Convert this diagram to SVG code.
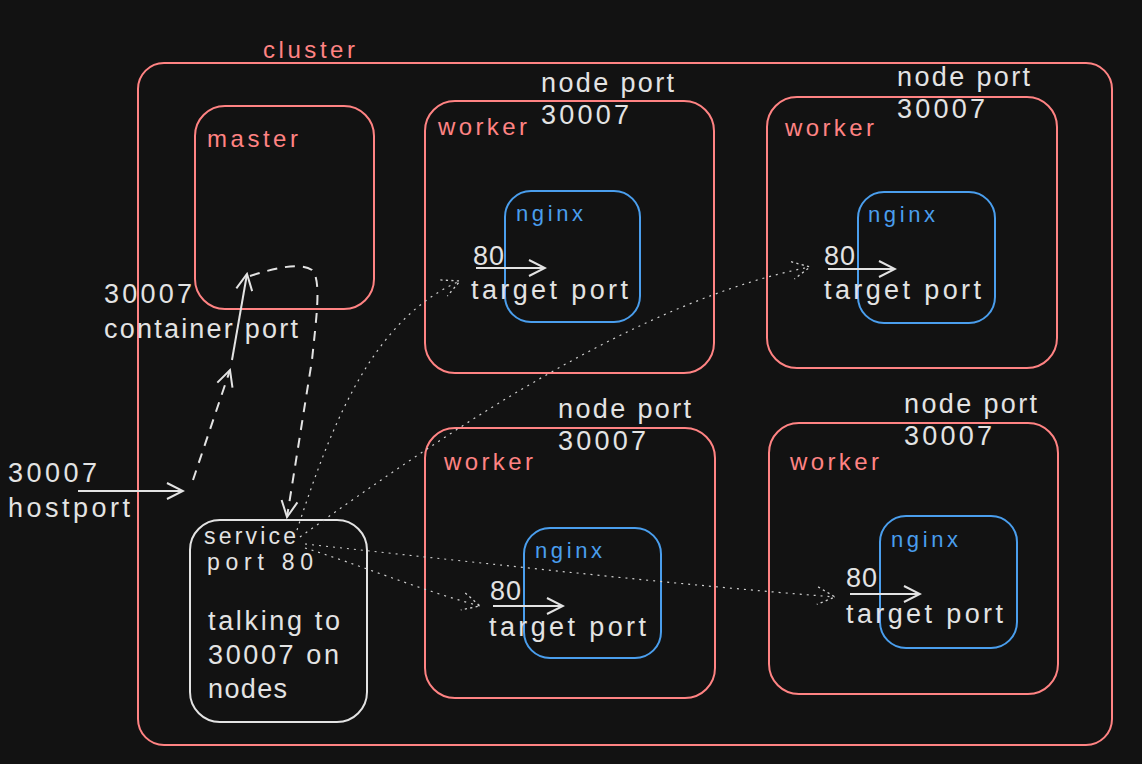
<svg xmlns="http://www.w3.org/2000/svg" width="1142" height="764" viewBox="0 0 1142 764">
<style>
text{font-family:"Liberation Sans",Arial,sans-serif;}
.red{fill:#ff8383;font-size:24px;}
.wht{fill:#e3e3e3;font-size:27px;}
.sm{font-size:23px;}
.blu{fill:#4a9eed;font-size:22px;}
.rbox{fill:none;stroke:#ff8383;stroke-width:2;}
.bbox{fill:none;stroke:#4a9eed;stroke-width:2;}
.wbox{fill:none;stroke:#e3e3e3;stroke-width:2;}
.conn{fill:none;stroke:#e3e3e3;stroke-width:2;}
.dash{stroke-dasharray:10 8;}
.dot{stroke-width:1.2;stroke-dasharray:2 5;stroke:#d0d0d0;}
</style>
<defs>
<marker id="ah" viewBox="0 0 20 20" refX="18" refY="10" markerWidth="20" markerHeight="20" markerUnits="userSpaceOnUse" orient="auto">
<path d="M2,2 L18,10 L2,18" fill="none" stroke="#e3e3e3" stroke-width="2"/>
</marker>
<marker id="ahd" viewBox="0 0 20 20" refX="18" refY="10" markerWidth="22" markerHeight="22" markerUnits="userSpaceOnUse" orient="auto">
<path d="M2,2 L18,10 L2,18" fill="none" stroke="#d0d0d0" stroke-width="1.2" stroke-dasharray="2 3"/>
</marker>
</defs>
<rect width="1142" height="764" fill="#121212"/>

<g id="cluster">
<rect class="rbox" x="138" y="63" width="974" height="682" rx="26"/>
<text class="red" x="263" y="58" textLength="92">cluster</text>
</g>

<g id="master">
<rect class="rbox" x="195" y="106" width="179" height="203" rx="30"/>
<text class="red" x="207" y="147" textLength="91">master</text>
</g>

<g id="worker1">
<rect class="rbox" x="425" y="101" width="289" height="272" rx="30"/>
<text class="red" x="438" y="135" textLength="89">worker</text>
<text class="wht" x="541" y="92" textLength="133">node port</text>
<text class="wht" x="541" y="124" textLength="88">30007</text>
<rect class="bbox" x="505" y="191" width="135" height="131" rx="26"/>
<text class="blu" x="516" y="221" textLength="67">nginx</text>
<text class="wht" x="473" y="265" textLength="31">80</text>
<text class="wht" x="471" y="299" textLength="157">target port</text>
</g>

<g id="worker2">
<rect class="rbox" x="767" y="97" width="290" height="271" rx="30"/>
<text class="red" x="785" y="136" textLength="89">worker</text>
<text class="wht" x="897" y="86" textLength="133">node port</text>
<text class="wht" x="897" y="118" textLength="88">30007</text>
<rect class="bbox" x="858" y="192" width="137" height="131" rx="26"/>
<text class="blu" x="868" y="222" textLength="67">nginx</text>
<text class="wht" x="824" y="265" textLength="31">80</text>
<text class="wht" x="824" y="299" textLength="157">target port</text>
</g>

<g id="worker3">
<rect class="rbox" x="425" y="428" width="290" height="270" rx="30"/>
<text class="red" x="444" y="470" textLength="89">worker</text>
<text class="wht" x="558" y="418" textLength="133">node port</text>
<text class="wht" x="558" y="450" textLength="88">30007</text>
<rect class="bbox" x="524" y="528" width="137" height="130" rx="26"/>
<text class="blu" x="535" y="558" textLength="67">nginx</text>
<text class="wht" x="490" y="600" textLength="31">80</text>
<text class="wht" x="489" y="636" textLength="157">target port</text>
</g>

<g id="worker4">
<rect class="rbox" x="769" y="423" width="289" height="271" rx="30"/>
<text class="red" x="790" y="470" textLength="89">worker</text>
<text class="wht" x="904" y="413" textLength="133">node port</text>
<text class="wht" x="904" y="445" textLength="88">30007</text>
<rect class="bbox" x="880" y="516" width="137" height="132" rx="26"/>
<text class="blu" x="891" y="547" textLength="67">nginx</text>
<text class="wht" x="846" y="587" textLength="31">80</text>
<text class="wht" x="846" y="623" textLength="157">target port</text>
</g>

<g id="service">
<rect class="wbox" x="190" y="520" width="177" height="202" rx="30"/>
<text class="wht sm" x="204" y="544" textLength="92">service</text>
<text class="wht sm" x="207" y="570" textLength="106">port 80</text>
<text class="wht" x="208" y="630" textLength="132">talking to</text>
<text class="wht" x="208" y="664" textLength="131">30007 on</text>
<text class="wht" x="208" y="698" textLength="79">nodes</text>
</g>

<g id="hostport">
<text class="wht" x="8" y="482" textLength="89">30007</text>
<text class="wht" x="8" y="517" textLength="122">hostport</text>
</g>

<g id="containerport">
<text class="wht" x="104" y="303" textLength="88">30007</text>
<text class="wht" x="104" y="338" textLength="194">container port</text>
</g>

<g id="connectors">
<line class="conn" x1="78" y1="491" x2="183" y2="491" marker-end="url(#ah)"/>
<line class="conn dash" x1="193" y1="480" x2="230" y2="370" marker-end="url(#ah)"/>
<line class="conn" x1="232" y1="360" x2="247" y2="274" marker-end="url(#ah)"/>
<path class="conn dash" d="M250,276 C275,268 300,262 312,270 C322,280 316,320 312,360 L287,517" marker-end="url(#ah)"/>
<line class="conn" x1="476" y1="268" x2="545" y2="268" marker-end="url(#ah)"/>
<line class="conn" x1="828" y1="269" x2="895" y2="269" marker-end="url(#ah)"/>
<line class="conn" x1="493" y1="606" x2="563" y2="606" marker-end="url(#ah)"/>
<line class="conn" x1="850" y1="594" x2="920" y2="594" marker-end="url(#ah)"/>
<path class="conn dot" d="M297,530 C330,430 370,320 460,281" marker-end="url(#ahd)"/>
<path class="conn dot" d="M300,537 C450,430 640,300 810,267" marker-end="url(#ahd)"/>
<path class="conn dot" d="M305,548 C360,565 420,590 480,606" marker-end="url(#ahd)"/>
<path class="conn dot" d="M305,544 C500,565 680,585 835,597" marker-end="url(#ahd)"/>
</g>
</svg>
